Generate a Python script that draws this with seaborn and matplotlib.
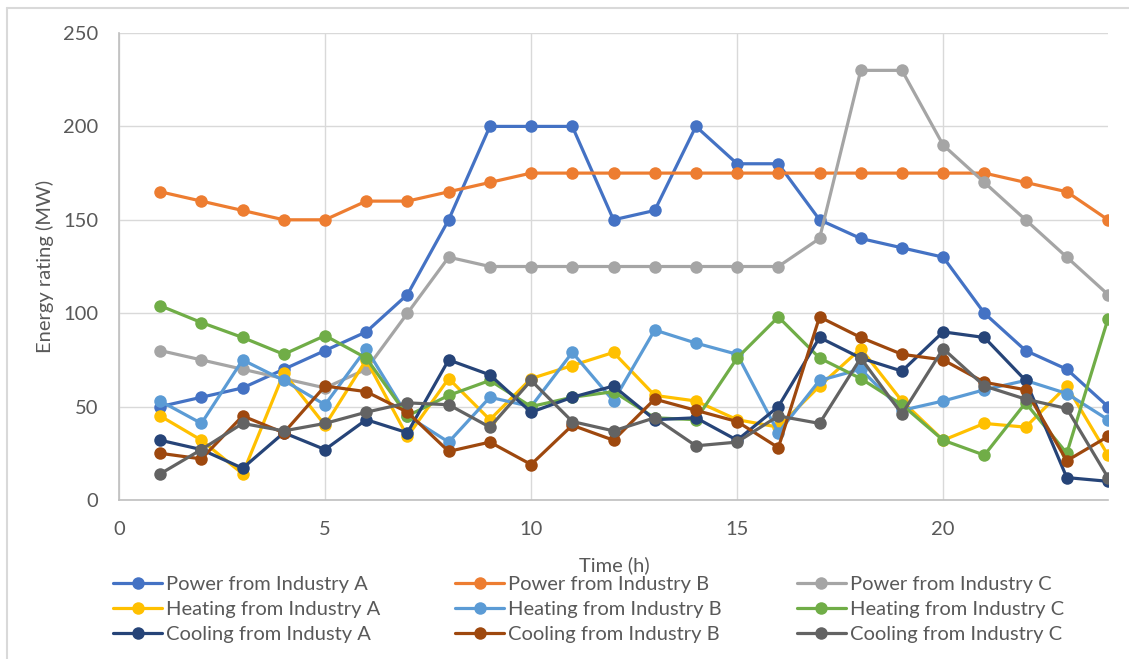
import matplotlib.pyplot as plt
import pandas as pd
import seaborn as sns
from matplotlib.lines import Line2D

hours = list(range(1, 25))

power_a = [50, 55, 60, 70, 80, 90, 110, 150, 200, 200, 200, 150, 155, 200, 180, 180, 150, 140, 135, 130, 100, 80, 70, 50]
power_b = [165, 160, 155, 150, 150, 160, 160, 165, 170, 175, 175, 175, 175, 175, 175, 175, 175, 175, 175, 175, 175, 170, 165, 150]
power_c = [80, 75, 70, 65, 60, 70, 100, 130, 125, 125, 125, 125, 125, 125, 125, 125, 140, 230, 230, 190, 170, 150, 130, 110]
heating_a = [45, 32, 14, 68, 40, 75, 34, 65, 43, 65, 72, 79, 56, 53, 43, 39, 61, 81, 53, 32, 41, 39, 61, 24]
heating_b = [53, 41, 75, 64, 51, 81, 45, 31, 55, 50, 79, 53, 91, 84, 78, 36, 64, 70, 48, 53, 59, 64, 57, 43]
heating_c = [104, 95, 87, 78, 88, 76, 45, 56, 64, 50, 55, 58, 44, 43, 76, 98, 76, 65, 51, 32, 24, 52, 25, 97]
cooling_a = [32, 27, 17, 36, 27, 43, 36, 75, 67, 47, 55, 61, 43, 44, 32, 50, 87, 76, 69, 90, 87, 64, 12, 10]
cooling_b = [25, 22, 45, 36, 61, 58, 47, 26, 31, 19, 40, 32, 54, 48, 42, 28, 98, 87, 78, 75, 63, 59, 21, 34]
cooling_c = [14, 27, 41, 37, 41, 47, 52, 51, 39, 64, 42, 37, 44, 29, 31, 45, 41, 76, 46, 81, 61, 54, 49, 12]

series_names = [
    "Power from Industry A", "Power from Industry B", "Power from Industry C",
    "Heating from Industry A", "Heating from Industry B", "Heating from Industry C",
    "Cooling from Industy A", "Cooling from Industry B", "Cooling from Industry C",
]
series_values = [power_a, power_b, power_c, heating_a, heating_b, heating_c,
                 cooling_a, cooling_b, cooling_c]
colors = ["#4472C4", "#ED7D31", "#A5A5A5", "#FFC000", "#5B9BD5", "#70AD47",
          "#264478", "#9E480E", "#636363"]

rows = []
for name, values in zip(series_names, series_values):
    for h, v in zip(hours, values):
        rows.append({"Time": h, "Energy": v, "Series": name})
df = pd.DataFrame(rows)

sns.set_style("white")
plt.rcParams["font.family"] = ["Lato", "DejaVu Sans"]
text_color = "#595959"
fs = 14.5

fig = plt.figure(figsize=(11.29, 6.59), dpi=100)
ax = fig.add_axes([119 / 1129, 159 / 659, 989 / 1129, 467 / 659])

sns.lineplot(
    data=df, x="Time", y="Energy", hue="Series", hue_order=series_names,
    palette=colors, marker="o", markersize=9, markeredgewidth=0,
    linewidth=2.3, errorbar=None, legend=False, ax=ax,
)

ax.set_xlim(0, 24)
ax.set_ylim(0, 250)
ax.set_xticks([0, 5, 10, 15, 20])
ax.set_yticks([0, 50, 100, 150, 200, 250])
ax.grid(True, color="#D9D9D9", linewidth=1.0)
ax.set_axisbelow(True)
ax.tick_params(axis="both", length=0, labelsize=fs, labelcolor=text_color)
ax.tick_params(axis="y", pad=15)
ax.tick_params(axis="x", pad=15)
for side in ["top", "right"]:
    ax.spines[side].set_visible(False)
for side in ["left", "bottom"]:
    ax.spines[side].set_color("#BFBFBF")
    ax.spines[side].set_linewidth(1.2)
ax.set_xlabel("")
ax.set_ylabel("")

fig.text(614 / 1129, 1 - 565 / 659, "Time (h)", ha="center", va="center",
         fontsize=fs, color=text_color)
fig.text(45 / 1129, 1 - 266 / 659, "Energy rating (MW)", ha="center", va="center",
         rotation=90, fontsize=fs, color=text_color)

# legend rows in the picture are Power / Heating / Cooling, so order column-first
lines = ax.get_lines()[:9]
order = [0, 3, 6, 1, 4, 7, 2, 5, 8]
leg = fig.legend(
    [lines[i] for i in order], [series_names[i] for i in order],
    ncol=3, loc="upper left", bbox_to_anchor=(113 / 1129, 1 - 576 / 659),
    frameon=False, fontsize=fs, handlelength=2.45, handletextpad=0.2,
    labelspacing=0.38, columnspacing=3.7, borderpad=0, borderaxespad=0,
)
for t in leg.get_texts():
    t.set_color(text_color)

# chart area border (only top and left edges visible in the crop)
fig.add_artist(Line2D([7 / 1129, 7 / 1129], [0, 1 - 7.5 / 659],
                      transform=fig.transFigure, color="#D9D9D9", lw=1.5))
fig.add_artist(Line2D([7 / 1129, 1], [1 - 7.5 / 659, 1 - 7.5 / 659],
                      transform=fig.transFigure, color="#D9D9D9", lw=1.5))

fig.savefig("out.png", dpi=100)
